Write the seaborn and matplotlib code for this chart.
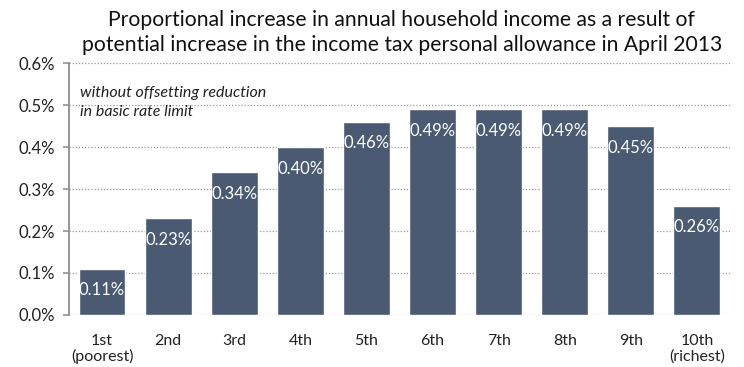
import matplotlib
matplotlib.use("Agg")
import matplotlib.pyplot as plt
import seaborn as sns
import pandas as pd
from matplotlib.ticker import FuncFormatter

deciles = ["1st\n(poorest)", "2nd", "3rd", "4th", "5th", "6th", "7th", "8th", "9th", "10th\n(richest)"]
increase_pct = [0.11, 0.23, 0.34, 0.40, 0.46, 0.49, 0.49, 0.49, 0.45, 0.26]
y_ticks = [0.0, 0.1, 0.2, 0.3, 0.4, 0.5, 0.6]

sns.set_theme(style="white")
plt.rcParams["font.family"] = ["Lato", "DejaVu Sans"]

df = pd.DataFrame({"decile": deciles, "increase": increase_pct})

fig = plt.figure(figsize=(7.44, 3.67), dpi=100)
ax = fig.add_axes([0.0927, 0.1417, 0.8885, 0.6866])

bar_color = "#4B5A73"
sns.barplot(data=df, x="decile", y="increase", color=bar_color, width=0.71,
            saturation=1, ax=ax, zorder=3)

ax.set_ylim(0, 0.6)
ax.set_xlim(-0.5, len(deciles) - 0.5)
ax.set_yticks(y_ticks)
ax.yaxis.set_major_formatter(FuncFormatter(lambda v, _: f"{v:.1f}%"))
for v in y_ticks:
    ax.axhline(v, color="#9a9a9a", linestyle=(0, (1, 1.5)), linewidth=0.9, zorder=1)

for i, v in enumerate(increase_pct):
    ax.annotate(f"{v:.2f}%", xy=(i, v), xytext=(0, -15.5), textcoords="offset points",
                ha="center", va="center", color="white", fontsize=12, zorder=4)

for side in ["top", "right", "bottom"]:
    ax.spines[side].set_visible(False)
ax.spines["left"].set_color("#8c8c8c")
ax.spines["left"].set_linewidth(1.3)
ax.tick_params(axis="y", left=True, length=4.3, width=1.1, color="#8c8c8c",
               labelsize=12, pad=6, labelcolor="#222222")
ax.tick_params(axis="x", bottom=False, labelsize=11.5, labelcolor="#222222", pad=8)
for lbl in ax.get_xticklabels():
    lbl.set_linespacing(1.05)
ax.set_xlabel("")
ax.set_ylabel("")

ax.text(0.017, 0.845, "without offsetting reduction\nin basic rate limit",
        transform=ax.transAxes, ha="left", va="center", fontsize=11.5, style="italic",
        color="#222222", linespacing=1.45)

fig.text(0.54, 0.972, "Proportional increase in annual household income as a result of\n"
         "potential increase in the income tax personal allowance in April 2013",
         ha="center", va="top", fontsize=15.2, color="#111111", linespacing=1.3)

fig.savefig("out.png", dpi=100)
